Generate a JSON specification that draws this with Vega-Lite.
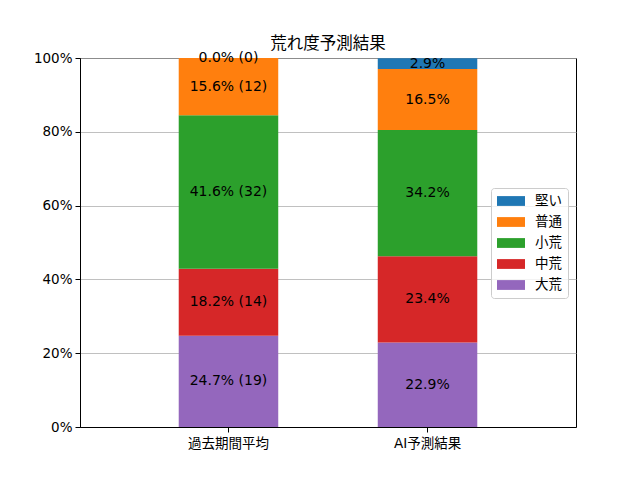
{
  "$schema": "https://vega.github.io/schema/vega-lite/v6.json",
  "autosize": "none",
  "padding": {"left": 80, "top": 58, "right": 64, "bottom": 53},
  "width": 496, "height": 369,
  "background": "white",
  "title": {"text": "荒れ度予測結果", "fontSize": 16.5, "fontWeight": "normal", "font": "Noto Sans CJK JP", "color": "black", "offset": -1},
  "data": {"values": [
    {"period": "過去期間平均", "cat": "大荒", "ord": 1, "pct": 24.7, "label": "24.7% (19)"},
    {"period": "過去期間平均", "cat": "中荒", "ord": 2, "pct": 18.2, "label": "18.2% (14)"},
    {"period": "過去期間平均", "cat": "小荒", "ord": 3, "pct": 41.6, "label": "41.6% (32)"},
    {"period": "過去期間平均", "cat": "普通", "ord": 4, "pct": 15.5, "label": "15.6% (12)"},
    {"period": "過去期間平均", "cat": "堅い", "ord": 5, "pct": 0.0, "label": "0.0% (0)"},
    {"period": "AI予測結果", "cat": "大荒", "ord": 1, "pct": 22.9, "label": "22.9%"},
    {"period": "AI予測結果", "cat": "中荒", "ord": 2, "pct": 23.4, "label": "23.4%"},
    {"period": "AI予測結果", "cat": "小荒", "ord": 3, "pct": 34.2, "label": "34.2%"},
    {"period": "AI予測結果", "cat": "普通", "ord": 4, "pct": 16.5, "label": "16.5%"},
    {"period": "AI予測結果", "cat": "堅い", "ord": 5, "pct": 2.9, "label": "2.9%"}
  ]},
  "encoding": {
    "x": {
      "field": "period", "type": "nominal", "sort": ["過去期間平均", "AI予測結果"], "title": null,
      "scale": {"paddingInner": 0.5, "paddingOuter": 0.496},
      "axis": {"labelAngle": 0, "labelFontSize": 13.5, "labelFont": "DejaVu Sans, Noto Sans CJK JP", "labelColor": "black", "tickColor": "black", "tickSize": 5, "domainColor": "black", "labelPadding": 4}
    }
  },
  "layer": [
    {
      "mark": {"type": "bar"},
      "encoding": {
        "y": {
          "field": "pct", "type": "quantitative", "stack": "zero", "title": null,
          "scale": {"domain": [0, 100], "nice": false},
          "axis": {"values": [0, 20, 40, 60, 80, 100], "labelExpr": "datum.value + '%'", "labelFontSize": 13.5, "labelFont": "DejaVu Sans", "labelColor": "black", "tickColor": "black", "tickSize": 5, "domainColor": "black", "grid": true, "gridColor": "#b0b0b0", "gridWidth": 0.8, "labelPadding": 3}
        },
        "order": {"field": "ord", "type": "quantitative", "sort": "ascending"},
        "color": {
          "field": "cat", "type": "nominal", "title": null,
          "scale": {"domain": ["堅い", "普通", "小荒", "中荒", "大荒"], "range": ["#1f77b4", "#ff7f0e", "#2ca02c", "#d62728", "#9467bd"]},
          "legend": {
            "orient": "none", "legendX": 411, "legendY": 130,
            "symbolType": "M-2,-0.7H2V0.7H-2Z", "symbolSize": 196, "symbolStrokeWidth": 0, "symbolOffset": 7,
            "labelFontSize": 13.5, "labelColor": "black", "labelOffset": 17,
            "rowPadding": 7, "padding": 6, "strokeColor": "#cccccc", "fillColor": "rgba(255,255,255,0.8)", "cornerRadius": 3,
            "encode": {"symbols": {"update": {"shape": {"value": "M-2,-0.7H2V0.7H-2Z"}}}}
          }
        }
      }
    },
    {
      "transform": [
        {"stack": "pct", "groupby": ["period"], "sort": [{"field": "ord", "order": "ascending"}], "as": ["y0", "y1"]},
        {"calculate": "(datum.y0 + datum.y1) / 2", "as": "mid"}
      ],
      "mark": {"type": "text", "fontSize": 14, "font": "DejaVu Sans", "color": "black", "baseline": "middle"},
      "encoding": {
        "y": {"field": "mid", "type": "quantitative"},
        "text": {"field": "label"}
      }
    }
  ],
  "config": {
    "font": "Noto Sans CJK JP",
    "view": {"stroke": "black", "strokeWidth": 1}
  }
}
